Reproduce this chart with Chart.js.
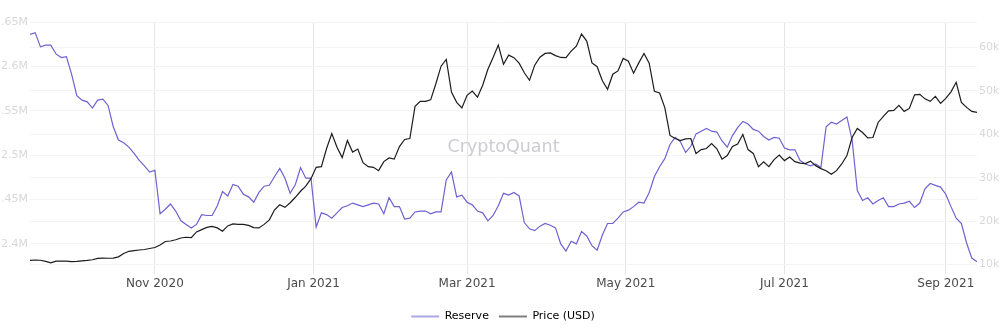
<!DOCTYPE html>
<html>
<head>
<meta charset="utf-8">
<title>Reserve vs Price</title>
<script src="https://cdn.jsdelivr.net/npm/chart.js@4.4.0/dist/chart.umd.min.js"></script>
<style>
  html, body { margin: 0; padding: 0; background: #fff; }
  #wrap { width: 1006px; height: 330px; position: relative; }
</style>
</head>
<body>
<div id="wrap"><canvas id="reserveChart"></canvas></div>
<script>
// daily series sampled every 2 days, first sample on startDate
const startDate = '2020-09-14';
const stepDays = 2;

const reserve = [
  2636000, 2638000, 2622000, 2624000, 2624000, 2614000, 2610000, 2611000, 2591000, 2567000,
  2562000, 2560000, 2553000, 2562000, 2563000, 2556000, 2532000, 2517000, 2514000, 2509000,
  2502000, 2494000, 2488000, 2481000, 2483000, 2434000, 2439000, 2445000, 2437000, 2426000,
  2422000, 2418000, 2422000, 2433000, 2432000, 2432000, 2443000, 2459000, 2454000, 2467000,
  2465000, 2456000, 2453000, 2447000, 2458000, 2465000, 2466000, 2476000, 2485000, 2474000,
  2457000, 2467000, 2486000, 2474000, 2474000, 2419000, 2435000, 2433000, 2429000, 2435000,
  2441000, 2443000, 2446000, 2444000, 2442000, 2444000, 2446000, 2445000, 2434000, 2452000,
  2442000, 2442000, 2428000, 2429000, 2436000, 2437000, 2437000, 2434000, 2436000, 2436000,
  2472000, 2481000, 2453000, 2455000, 2447000, 2444000, 2437000, 2435000, 2426000, 2432000,
  2443000, 2457000, 2455000, 2458000, 2454000, 2424000, 2417000, 2415000, 2420000, 2423000,
  2421000, 2418000, 2400000, 2392000, 2403000, 2400000, 2414000, 2409000, 2398000, 2393000,
  2410000, 2423000, 2423000, 2429000, 2436000, 2438000, 2442000, 2447000, 2446000, 2458000,
  2476000, 2487000, 2496000, 2512000, 2520000, 2515000, 2503000, 2510000, 2524000, 2527000,
  2530000, 2527000, 2526000, 2516000, 2509000, 2522000, 2531000, 2538000, 2535000, 2529000,
  2527000, 2521000, 2517000, 2520000, 2519000, 2508000, 2506000, 2506000, 2494000, 2490000,
  2488000, 2490000, 2486000, 2532000, 2537000, 2535000, 2539000, 2543000, 2517000, 2460000,
  2449000, 2452000, 2445000, 2449000, 2452000, 2442000, 2442000, 2445000, 2446000, 2448000,
  2441000, 2446000, 2462000, 2468000, 2466000, 2464000, 2456000, 2442000, 2429000, 2423000,
  2401000, 2384000, 2380000
];

const priceUsd = [
  10970, 11060, 11000, 10740, 10390, 10810, 10810, 10810, 10690, 10740,
  10860, 10970, 11110, 11440, 11510, 11460, 11510, 11780, 12550, 13060,
  13200, 13360, 13470, 13700, 13940, 14510, 15320, 15440, 15720, 16130,
  16300, 16200, 17520, 18060, 18570, 18800, 18450, 17680, 18910, 19370,
  19260, 19260, 19030, 18520, 18450, 19260, 20300, 22620, 23770, 23190,
  24240, 25510, 26900, 28060, 29790, 32410, 32570, 36740, 40210, 37040,
  34660, 38590, 35930, 36620, 33500, 32570, 32410, 31640, 33730, 34580,
  34300, 37200, 38820, 39050, 46460, 47620, 47620, 47960, 51670, 55720,
  57270, 49750, 47380, 46110, 49000, 50000, 48590, 51320, 55020, 57730,
  60580, 56180, 58260, 57690, 56410, 54210, 52480, 55950, 57800, 58660,
  58790, 58150, 57730, 57690, 59190, 60340, 63120, 61500, 56480, 55600,
  52360, 50390, 53860, 54630, 57500, 56870, 54100, 56480, 58660, 56410,
  49930, 49540, 46160, 39750, 39050, 38590, 38980, 39050, 35580, 36500,
  36740, 37890, 36670, 34300, 35110, 37200, 37780, 39980, 36500, 35620,
  32570, 33660, 32570, 34190, 35230, 33960, 34770, 33730, 33380, 33260,
  33840, 32800, 32110, 31640, 30830, 31640, 33190, 35110, 39280, 41370,
  40440, 39210, 39280, 42750, 44140, 45410, 45530, 46690, 45300, 45990,
  49120, 49240, 48190, 47620, 48770, 47150, 48310, 49810, 52010, 47380,
  46220, 45300, 45070
];

const tickDates = ['2020-11-01', '2021-01-01', '2021-03-01', '2021-05-01', '2021-07-01', '2021-09-01'];
const tickLabels = ['Nov 2020', 'Jan 2021', 'Mar 2021', 'May 2021', 'Jul 2021', 'Sep 2021'];
const reserveTicks = [2400000, 2450000, 2500000, 2550000, 2600000, 2650000];
const priceTicks = [10000, 20000, 30000, 40000, 50000, 60000];

const DAY_MS = 86400000;
const dayOf = (iso) => Math.round((Date.parse(iso) - Date.parse(startDate)) / DAY_MS);
const toPoints = (values) => values.map((v, i) => ({ x: i * stepDays, y: v }));
const lastDay = (reserve.length - 1) * stepDays;

Chart.defaults.font.family = '"DejaVu Sans", Verdana, sans-serif';

// faint brand text behind the lines
const watermark = {
  id: 'watermark',
  beforeDatasetsDraw(chart) {
    const { ctx, chartArea } = chart;
    ctx.save();
    ctx.font = '17.5px "DejaVu Sans"';
    ctx.fillStyle = 'rgba(195, 195, 202, 0.85)';
    ctx.textAlign = 'center';
    ctx.textBaseline = 'middle';
    ctx.fillText('CryptoQuant', (chartArea.left + chartArea.right) / 2, (chartArea.top + chartArea.bottom) / 2 + 3);
    ctx.restore();
  }
};

const legendColors = ['rgba(108, 95, 209, 0.55)', 'rgba(40, 40, 40, 0.6)'];

new Chart(document.getElementById('reserveChart'), {
  type: 'line',
  data: {
    datasets: [
      {
        label: 'Reserve',
        data: toPoints(reserve),
        yAxisID: 'yReserve',
        borderColor: '#6e61d2',
        borderWidth: 1.2,
        pointRadius: 0,
        tension: 0,
        order: 1
      },
      {
        label: 'Price (USD)',
        data: toPoints(priceUsd),
        yAxisID: 'yPrice',
        borderColor: '#1c1c1c',
        borderWidth: 1.2,
        pointRadius: 0,
        tension: 0,
        order: 0
      }
    ]
  },
  options: {
    responsive: true,
    maintainAspectRatio: false,
    animation: false,
    layout: { padding: { top: 22, left: 0, right: 0, bottom: -2 } },
    plugins: {
      tooltip: { enabled: false },
      legend: {
        position: 'bottom',
        labels: {
          boxWidth: 28,
          boxHeight: 2,
          padding: 10,
          color: '#777',
          font: { size: 11 },
          generateLabels: (chart) => chart.data.datasets.map((ds, i) => ({
            text: ds.label,
            fillStyle: legendColors[i],
            strokeStyle: legendColors[i],
            lineWidth: 0,
            hidden: false,
            datasetIndex: i
          }))
        }
      }
    },
    scales: {
      x: {
        type: 'linear',
        min: 0,
        max: lastDay,
        afterBuildTicks: (axis) => { axis.ticks = tickDates.map(d => ({ value: dayOf(d) })); },
        // leave room between the month labels and the legend
        afterFit: (axis) => { axis.height += 6.5; },
        ticks: {
          autoSkip: false,
          maxRotation: 0,
          padding: 3,
          color: '#4a4a4a',
          font: { size: 12 },
          callback: (value, index) => tickLabels[index]
        },
        grid: { color: '#e6e6e6', tickLength: 8 },
        border: { display: false }
      },
      yReserve: {
        position: 'left',
        min: 2375000,
        max: 2650000,
        afterBuildTicks: (axis) => { axis.ticks = reserveTicks.map(v => ({ value: v })); },
        afterFit: (axis) => { axis.width = 30; },
        ticks: {
          padding: 2,
          color: '#d8d8d8',
          font: { size: 11 },
          callback: (value) => (value / 1e6) + 'M'
        },
        grid: { color: '#f3f3f3', drawTicks: false },
        border: { display: false }
      },
      yPrice: {
        position: 'right',
        min: 9650,
        max: 65900,
        afterBuildTicks: (axis) => { axis.ticks = priceTicks.map(v => ({ value: v })); },
        afterFit: (axis) => { axis.width = 29; },
        ticks: {
          padding: 2,
          color: '#d8d8d8',
          font: { size: 11 },
          callback: (value) => (value / 1000) + 'k'
        },
        grid: { color: '#f3f3f3', drawTicks: false },
        border: { display: false }
      }
    }
  },
  plugins: [watermark]
});
</script>
</body>
</html>
